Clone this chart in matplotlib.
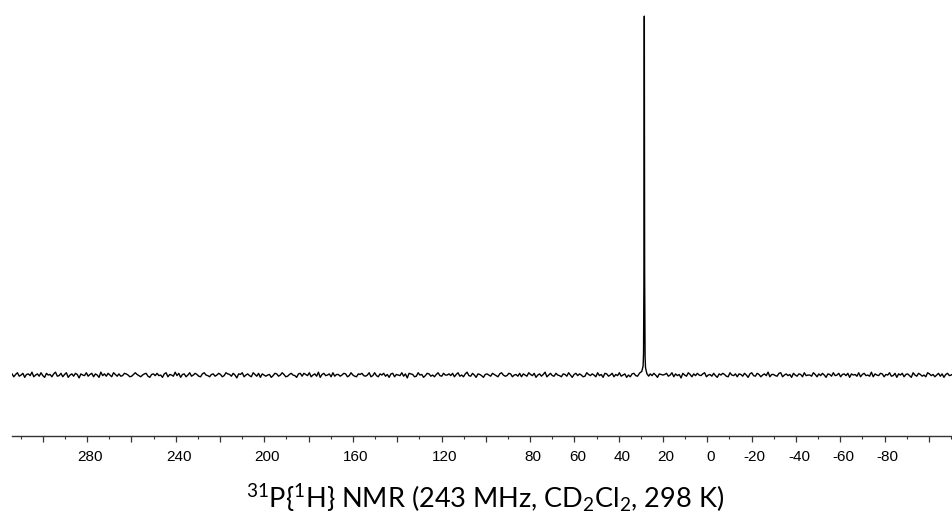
import numpy as np
import matplotlib
matplotlib.use("Agg")
import matplotlib.pyplot as plt
import matplotlib.transforms as mtransforms

# --- data ---
# baseline noise, arbitrary units, sampled evenly from 314 to -111 ppm
noise = [
    2, -3, 1, 4, -2, 0, 3, -4, 1, 2, -1, 5, -3, 0, 2, -2, 4, -1, -4, 3,
    0, 1, -3, 2, 5, -2, -1, 3, -3, 1, 4, -4, 0, 2, -2, 3, 1, -5, 2, 0,
    -1, 4, -2, 1, 3, -3, 2, 0, -4, 5, -1, 2, -2, 3, 0, -3, 4, 1, -2, 2,
    -2, -1, 3, 2, 0, -3, -2, 1, 4, 1, -1, -3, 0, 2, 3, -2, -4, 1, 2, -1,
    3, -1, 0, -4, 2, 4, -3, 1, 0, -2, 5, -1, 3, -4, 1, 2, -3, 0, 4, -2,
    0, 3, 1, -2, -3, 2, 4, 0, -1, -3, 1, 2, -2, 0, 3, 1, -3, -1, 4, 2,
    1, -2, 3, 0, -5, 2, 1, 4, -3, 0, 2, -1, -3, 4, 1, -2, 3, -4, 2, 0,
    -2, 0, 1, -4, -1, 3, 2, -2, 0, 4, 1, -3, -2, 1, 3, 0, -1, -4, 2, 3,
    -2, 3, 1, -1, 4, -3, 0, 2, -2, 5, -4, 1, 3, -1, 0, 2, -3, 4, -2, 1,
    1, -2, 0, 3, 2, -3, -1, 4, 0, -2, -3, 2, 1, 3, -1, -2, 0, 4, -3, -1,
    4, -1, -3, 2, 0, 3, -2, 1, -4, 2, 3, -3, 1, 0, -1, 4, -2, 2, -5, 3,
    2, 1, -3, -2, 4, 0, 1, -4, -1, 3, 2, -2, 0, -3, 1, 4, -1, -2, 3, 0,
    0, 2, -1, 3, -3, 1, 4, -2, 0, -3, 2, 5, -1, -2, 3, 0, -4, 2, 1, -1,
    -4, 1, 2, 0, -2, 3, 1, -1, -3, 2, 4, 0, -2, -1, 3, 2, -3, 0, 1, -2,
    3, -3, 2, 0, -2, 4, 1, -1, 3, -4, 0, 2, -2, 1, 5, -3, 0, 3, -1, -2,
    3, 0, -1, -3, 2, 1, -2, 4, 0, -4, 1, 3, -1, 2, 0, -3, -2, 4, 1, -1,
    2, 0, -3, 4, -1, 1, -4, 3, 2, -2, 0, 3, -3, 1, -1, 4, -2, 0, 2, -4,
    0, -3, 2, 3, -1, -2, 1, 0, 4, -2, -3, 1, 2, -1, 3, 0, -4, 2, 1, 0,
    1, 3, -2, 0, 4, -3, 2, -1, 1, -5, 3, 0, -2, 4, 1, -3, 2, -1, 3, 0,
    -1, 2, 4, -3, 0, 1, -2, 3, -1, -4, 2, 0, 3, 1, -2, -3, 4, 0, -1, 2,
    -3, 2, 1, -2, 3, 0, -4, 2, 4, -1, -2, 3, 1, -3, 0, 2, -1, 5, -3, 1,
    1, -1, -2, 3, 4, -3, 0, 2, -1, 1, -4, 3, 0, -2, 2, 1, -3, 4, -1, 0,
    0, -2, 4, 1, -3, 2, -1, 3, 0, -4, 2, 1, -2, 4, -1, 0, 3, -3, 1, 2,
    -1, 3, -4, 2, 0, 1, -2, 4, -3, 1, 3, -1, 0, -2, 5, -3, 2, 0, -1, 3,
    2, -3, 1, 0, 4, -2, -1, 3, -4, 2, 0, 3, -3, 1, 2, -1, -4, 4, 0, -2,
    3, 1, -2, 0, -3, 4, 2, -1, 1, -3, 0, 3, -2, 2, -4, 1, 3, -1, 0, 2,
]
noise_scale = 0.16

# the single 31P signal near 28.4 ppm
peak_ppm = [30.5, 29.6, 29.0, 28.8, 28.6, 28.45, 28.3, 28.1, 27.9, 27.3, 26.5]
peak_int = [0.6, 1.0, 2.5, 6.0, 30.0, 100.0, 28.0, 5.0, 2.0, 0.4, -0.3]

major_ticks = [300, 280, 260, 240, 220, 200, 180, 160, 140, 120, 100, 80, 60,
               40, 20, 0, -20, -40, -60, -80, -100]
labelled = [280, 240, 200, 160, 120, 80, 60, 40, 20, 0, -20, -40, -60, -80]

title = r"$^{31}$P{$^{1}$H} NMR (243 MHz, CD$_{2}$Cl$_{2}$, 298 K)"

# --- build spectrum ---
base_ppm = np.linspace(313.9, -110.9, len(noise))
base_int = np.array(noise) * noise_scale
keep = (base_ppm > 31) | (base_ppm < 26)
ppm = np.concatenate([base_ppm[keep], peak_ppm])
inten = np.concatenate([base_int[keep], peak_int])
order = np.argsort(ppm)[::-1]
ppm, inten = ppm[order], inten[order]

# --- plot ---
plt.rcParams['font.family'] = ['Liberation Sans', 'DejaVu Sans']
fig = plt.figure(figsize=(9.53, 5.24), dpi=100)
ax = fig.add_axes([12 / 953, 1 - 435.7 / 524, 941 / 953, 435.7 / 524])

ax.plot(ppm, inten, color='black', lw=1.0)
ax.set_xlim(313.9, -110.9)
ax.set_ylim(-16.9, 104.5)

for s in ['top', 'left', 'right']:
    ax.spines[s].set_visible(False)
ax.spines['bottom'].set_color('#333333')
ax.spines['bottom'].set_linewidth(1.0)
ax.set_yticks([])

ax.set_xticks(major_ticks)
ax.set_xticklabels([str(t) if t in labelled else '' for t in major_ticks])
ax.set_xticks(np.arange(310, -115, -10), minor=True)
ax.tick_params(axis='x', which='major', direction='out', length=4, width=0.9,
               colors='#333333', labelcolor='black', labelsize=11, pad=6)
ax.tick_params(axis='x', which='minor', direction='out', length=2.2, width=0.8,
               colors='#333333')
offset = mtransforms.ScaledTranslation(3 / 100, 0, fig.dpi_scale_trans)
for lab in ax.get_xticklabels():
    lab.set_transform(lab.get_transform() + offset)

plt.rcParams['mathtext.fontset'] = 'custom'
plt.rcParams['mathtext.rm'] = 'Lato'
plt.rcParams['mathtext.it'] = 'Lato:italic'
fig.text(485 / 953, 1 - 508 / 524, title, ha='center', va='baseline',
         fontsize=19.5, family='Lato')

fig.savefig('out.png', dpi=100)
